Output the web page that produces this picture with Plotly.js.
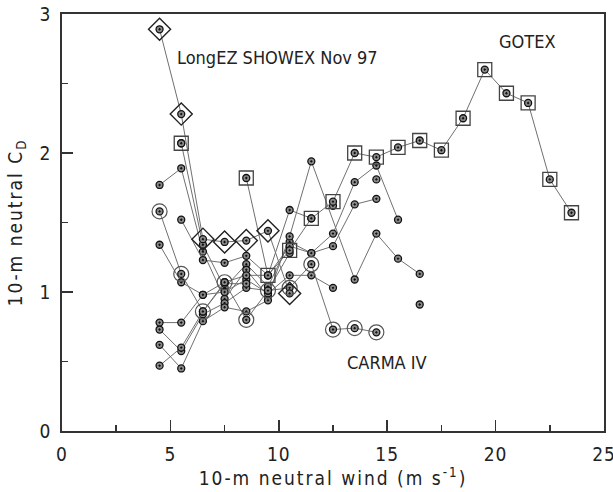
<!DOCTYPE html>
<html>
<head>
<meta charset="utf-8">
<script src="https://cdn.plot.ly/plotly-3.0.1.min.js"></script>
<style>
html,body{margin:0;padding:0;background:#fff;}
#chart{width:613px;height:492px;}
.xtitle,.ytitle{letter-spacing:2px;}
.xtick text,.ytick text{letter-spacing:1px;}
</style>
</head>
<body>
<div id="chart"></div>
<script>
// ---- data (10-m neutral wind, m/s ; 10-m neutral drag coefficient x1000) ----
const longezX = [4.5, 5.5, 6.5, 7.5, 8.5, 9.5, 10.5];
const longezY = [2.89, 2.28, 1.38, 1.36, 1.37, 1.44, 0.99];

const gotexX = [5.5, 6.5, 7.5, 8.5, 9.5, 10.5, 11.5, 12.5, 13.5, 14.5, 15.5, 16.5, 17.5, 18.5, 19.5, 20.5, 21.5, 22.5, 23.5];
const gotexY = [2.07, null, null, 1.82, 1.12, 1.30, 1.53, 1.65, 2.00, 1.97, 2.04, 2.09, 2.02, 2.25, 2.60, 2.43, 2.36, 1.81, 1.57];

const carmaX = [4.5, 5.5, 6.5, 7.5, 8.5, 9.5, 10.5, 11.5, 12.5, 13.5, 14.5];
const carmaY = [1.58, 1.13, 0.86, 1.07, 0.80, 1.01, 1.03, 1.20, 0.73, 0.74, 0.71];

const s1X = [5.5, 6.5, 7.5, 8.5, 9.5, 10.5, 11.5, 12.5, 13.5, 14.5, 15.5];
const s1Y = [2.07, 1.34, 1.03, 1.20, 1.04, 1.36, 1.28, 1.42, 1.79, 1.91, 1.52];
const s2X = [4.5, 5.5, 6.5, 7.5, 8.5, 9.5, 10.5, 11.5, 13.5, 14.5, 15.5, 16.5];
const s2Y = [1.77, 1.89, 1.29, 0.95, 1.16, 0.97, 1.40, 1.94, 1.09, 1.42, 1.24, 1.13];
const s3X = [5.5, 6.5, 7.5, 8.5, 9.5, 10.5, 11.5];
const s3Y = [1.52, 1.23, 1.21, 1.26, 1.12, 1.59, 1.53];
const s4X = [4.5, 5.5, 6.5, 7.5, 8.5, 9.5, 10.5, 11.5, 12.5];
const s4Y = [1.34, 1.07, 0.98, 1.00, 1.09, 0.99, 1.12, 1.12, 1.03];
const s5X = [4.5, 5.5, 6.5, 7.5, 8.5, 9.5, 10.5, 11.5, 12.5, 13.5, 14.5];
const s5Y = [0.78, 0.78, 0.98, 1.07, 1.12, 1.12, 1.33, 1.28, 1.33, 1.63, 1.67];
const s6X = [4.5, 5.5, 6.5, 7.5, 8.5, 9.5, 10.5];
const s6Y = [0.73, 0.575, 0.84, 0.92, 1.03, 1.01, 1.28];
const s7X = [4.5, 5.5, 6.5, 7.5, 8.5, 9.5];
const s7Y = [0.62, 0.45, 0.79, 0.89, 0.86, 0.94];
const s8X = [4.5, 5.5, 6.5, 7.5, 8.5];
const s8Y = [0.47, 0.60, 0.86, 1.06, 1.06];
const loneX = [12.5, 14.5, 16.5];
const loneY = [1.62, 1.81, 0.91];

const xTickVals = [0, 5, 10, 15, 20, 25];
const yTickVals = [0, 1, 2, 3];

const labels = [
  {text: 'LongEZ SHOWEX Nov 97', x: 5.22, y: 2.69},
  {text: 'GOTEX', x: 20.05, y: 2.80},
  {text: 'CARMA IV', x: 13.06, y: 0.49}
];

// ---- styles ----
const FONT = 'Liberation Sans Narrow, DejaVu Sans Condensed, Arial Narrow, sans-serif';
const lineStyle = {color: '#707070', width: 1};
const dotMarker = {symbol: 'circle-dot', size: 7, color: '#8a8a8a', line: {color: '#111', width: 1.3}};

const traces = [];
function addSeries(x, y, mode) {
  traces.push({x: x, y: y, type: 'scatter', mode: mode || 'lines+markers',
    line: lineStyle, marker: dotMarker, connectgaps: false, hoverinfo: 'skip'});
}
[[s1X, s1Y], [s2X, s2Y], [s3X, s3Y], [s4X, s4Y], [s5X, s5Y], [s6X, s6Y], [s7X, s7Y], [s8X, s8Y]]
  .forEach(function (s) { addSeries(s[0], s[1]); });
addSeries(loneX, loneY, 'markers');
addSeries(carmaX, carmaY);
addSeries(gotexX, gotexY);
addSeries(longezX, longezY);

traces.push({x: carmaX, y: carmaY, type: 'scatter', mode: 'markers', hoverinfo: 'skip',
  marker: {symbol: 'circle-open', size: 15, color: '#555', line: {color: '#555', width: 1.2}}});
traces.push({x: gotexX, y: gotexY, type: 'scatter', mode: 'markers', hoverinfo: 'skip',
  marker: {symbol: 'square-open', size: 14, color: '#444', line: {color: '#444', width: 1.3}}});
traces.push({x: longezX, y: longezY, type: 'scatter', mode: 'markers', hoverinfo: 'skip',
  marker: {symbol: 'diamond-open', size: 17, color: '#222', line: {color: '#222', width: 1.4}}});

const axisCommon = {
  showgrid: false, zeroline: false, showline: true, mirror: true,
  linecolor: '#333', linewidth: 1.8,
  ticks: 'inside', ticklen: 11, tickwidth: 1.5, tickcolor: '#333',
  tickfont: {family: FONT, size: 19, color: '#222'},
  ticklabelstandoff: 5, ticklabeloverflow: 'allow'
};

const layout = {
  width: 613, height: 492,
  margin: {l: 62, r: 9, t: 14, b: 61},
  paper_bgcolor: '#fff', plot_bgcolor: '#fff',
  showlegend: false,
  xaxis: Object.assign({}, axisCommon, {
    range: [0, 25], tickvals: xTickVals,
    minor: {dtick: 2.5, tick0: 0, ticks: 'inside', ticklen: 6, tickwidth: 1.5, tickcolor: '#333'},
    title: {text: '10-m neutral wind (m s<sup>-1</sup>)', font: {family: FONT, size: 19, color: '#222'}, standoff: 8}
  }),
  yaxis: Object.assign({}, axisCommon, {
    range: [0, 3], tickvals: yTickVals,
    minor: {dtick: 0.5, tick0: 0, ticks: 'inside', ticklen: 6, tickwidth: 1.5, tickcolor: '#333'},
    title: {text: '10-m neutral C<sub>D</sub>', font: {family: FONT, size: 19, color: '#222'}, standoff: 12}
  }),
  annotations: labels.map(function (l) {
    return {text: l.text, x: l.x, y: l.y, xref: 'x', yref: 'y', xanchor: 'left', yanchor: 'middle',
      showarrow: false, font: {family: FONT, size: 18, color: '#222'}};
  })
};

Plotly.newPlot('chart', traces, layout, {staticPlot: true, displayModeBar: false});
</script>
</body>
</html>
